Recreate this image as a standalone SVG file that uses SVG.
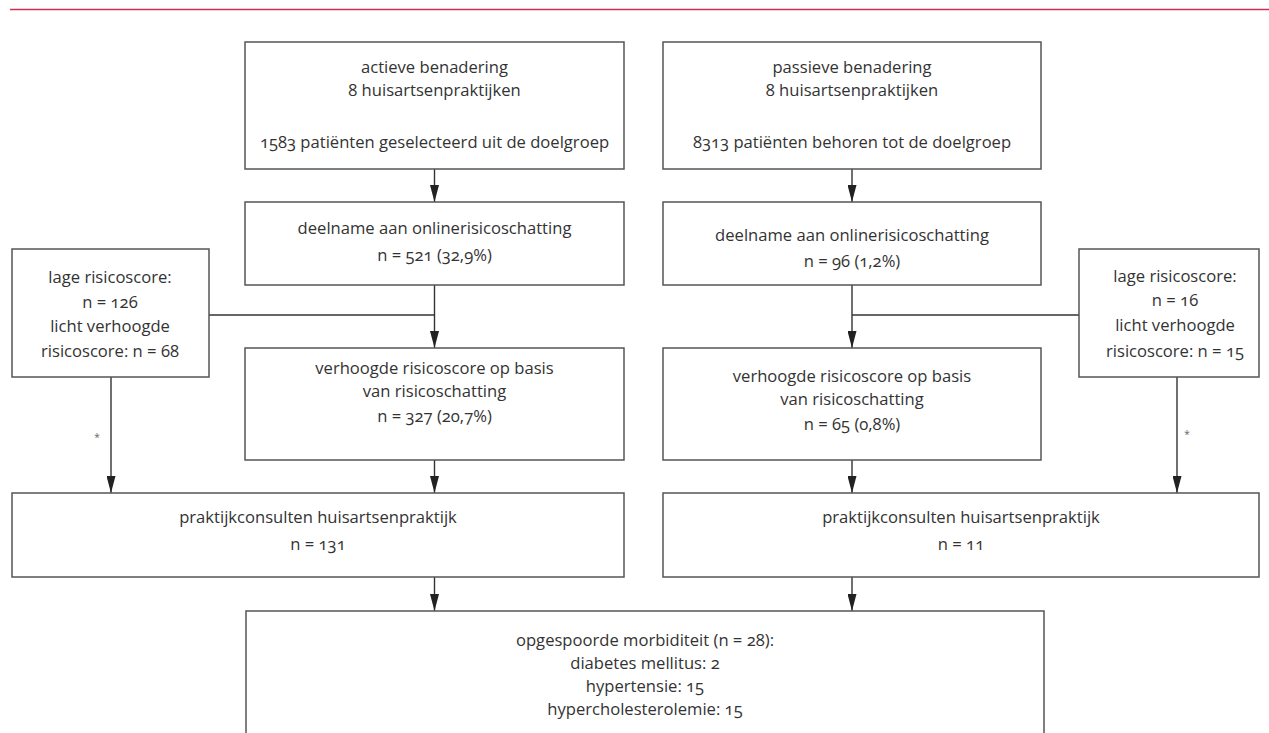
<svg xmlns="http://www.w3.org/2000/svg" width="1269" height="733" viewBox="0 0 1269 733">
<defs>
<marker id="ah" markerWidth="17" markerHeight="9" refX="17" refY="4.5" orient="auto" markerUnits="userSpaceOnUse" viewBox="0 0 17 9">
<path d="M0,0 L17,4.5 L0,9 Z" fill="#222"/>
</marker>
<style>
.box{fill:#fff;stroke:#555;stroke-width:1.5}
.t{font-family:"Open Sans","Noto Sans","Liberation Sans",sans-serif;font-size:16.6px;fill:#333;text-anchor:middle;font-variant-numeric:oldstyle-nums}
.c{fill:none;stroke:#333;stroke-width:1.4}
.a{marker-end:url(#ah)}
.s{font-family:"Open Sans","Liberation Sans",sans-serif;font-size:10px;fill:#666;text-anchor:middle}
</style>
</defs>
<rect width="1269" height="733" fill="#fff"/>
<line x1="10" y1="9.5" x2="1269" y2="9.5" stroke="#d22f50" stroke-width="1.6"/>

<g id="connectors">
<line class="c a" x1="434.5" y1="169" x2="434.5" y2="202"/>
<line class="c a" x1="434.5" y1="285" x2="434.5" y2="348"/>
<line class="c" x1="209" y1="315" x2="434.5" y2="315"/>
<line class="c a" x1="434.5" y1="460" x2="434.5" y2="493"/>
<line class="c a" x1="434.5" y1="577" x2="434.5" y2="611"/>
<line class="c a" x1="111" y1="377" x2="111" y2="493"/>
<line class="c a" x1="852" y1="169" x2="852" y2="202"/>
<line class="c a" x1="852" y1="285" x2="852" y2="348"/>
<line class="c" x1="1079" y1="315" x2="852" y2="315"/>
<line class="c a" x1="852" y1="460" x2="852" y2="493"/>
<line class="c a" x1="852" y1="577" x2="852" y2="611"/>
<line class="c a" x1="1177" y1="377" x2="1177" y2="493"/>
<text class="s" x="97" y="441">*</text>
<text class="s" x="1187" y="438">*</text>
</g>

<g id="active-top">
<rect class="box" x="245" y="42" width="379" height="127"/>
<text class="t" x="434.5" y="73">actieve benadering</text>
<text class="t" x="434.5" y="96">8 huisartsenpraktijken</text>
<text class="t" x="434.5" y="148">1583 patiënten geselecteerd uit de doelgroep</text>
</g>
<g id="passive-top">
<rect class="box" x="663" y="42" width="378" height="127"/>
<text class="t" x="852" y="73">passieve benadering</text>
<text class="t" x="852" y="96">8 huisartsenpraktijken</text>
<text class="t" x="852" y="148">8313 patiënten behoren tot de doelgroep</text>
</g>
<g id="active-deelname">
<rect class="box" x="245" y="202" width="379" height="83"/>
<text class="t" x="434.5" y="234">deelname aan onlinerisicoschatting</text>
<text class="t" x="434.5" y="261">n = 521 (32,9%)</text>
</g>
<g id="passive-deelname">
<rect class="box" x="663" y="202" width="378" height="83"/>
<text class="t" x="852" y="241">deelname aan onlinerisicoschatting</text>
<text class="t" x="852" y="267">n = 96 (1,2%)</text>
</g>
<g id="left-low">
<rect class="box" x="12" y="249" width="197" height="128"/>
<text class="t" x="110" y="283">lage risicoscore:</text>
<text class="t" x="110" y="308">n = 126</text>
<text class="t" x="110" y="332">licht verhoogde</text>
<text class="t" x="110" y="357">risicoscore: n = 68</text>
</g>
<g id="right-low">
<rect class="box" x="1079" y="249" width="180" height="128"/>
<text class="t" x="1175" y="282">lage risicoscore:</text>
<text class="t" x="1175" y="306">n = 16</text>
<text class="t" x="1175" y="331">licht verhoogde</text>
<text class="t" x="1175" y="357">risicoscore: n = 15</text>
</g>
<g id="active-verhoogd">
<rect class="box" x="245" y="348" width="379" height="112"/>
<text class="t" x="434.5" y="374">verhoogde risicoscore op basis</text>
<text class="t" x="434.5" y="397">van risicoschatting</text>
<text class="t" x="434.5" y="422">n = 327 (20,7%)</text>
</g>
<g id="passive-verhoogd">
<rect class="box" x="663" y="348" width="378" height="112"/>
<text class="t" x="852" y="382">verhoogde risicoscore op basis</text>
<text class="t" x="852" y="405">van risicoschatting</text>
<text class="t" x="852" y="430">n = 65 (0,8%)</text>
</g>
<g id="active-praktijk">
<rect class="box" x="12" y="493" width="612" height="84"/>
<text class="t" x="318" y="523">praktijkconsulten huisartsenpraktijk</text>
<text class="t" x="318" y="550">n = 131</text>
</g>
<g id="passive-praktijk">
<rect class="box" x="663" y="493" width="596" height="84"/>
<text class="t" x="961" y="523">praktijkconsulten huisartsenpraktijk</text>
<text class="t" x="961" y="550">n = 11</text>
</g>
<g id="morbiditeit">
<rect class="box" x="246" y="611" width="798" height="140"/>
<text class="t" x="645" y="646">opgespoorde morbiditeit (n = 28):</text>
<text class="t" x="645" y="669">diabetes mellitus: 2</text>
<text class="t" x="645" y="692">hypertensie: 15</text>
<text class="t" x="645" y="715">hypercholesterolemie: 15</text>
</g>
</svg>
